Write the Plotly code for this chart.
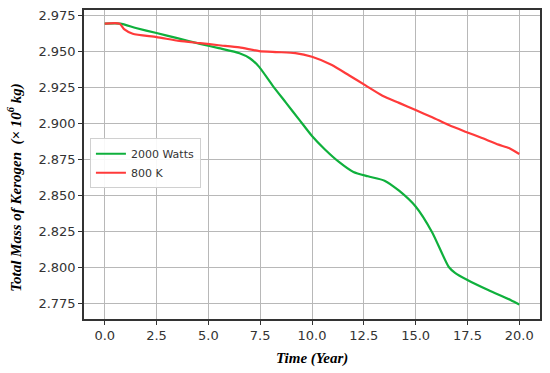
import plotly.graph_objects as go

# Data
time_green = [0.0, 0.75, 1.5, 2.5, 3.5, 4.6, 5.5, 6.5, 7.0, 7.45, 8.1, 8.75, 9.4, 10.0, 10.6, 11.3, 12.0, 12.7, 13.5, 14.2, 15.0, 15.8, 16.6, 16.9, 17.5, 18.5, 19.6, 20.0]
mass_green = [2.969, 2.969, 2.966, 2.9625, 2.959, 2.955, 2.952, 2.9485, 2.945, 2.939, 2.926, 2.914, 2.902, 2.891, 2.882, 2.873, 2.866, 2.863, 2.860, 2.853, 2.842, 2.824, 2.800, 2.796, 2.791, 2.784, 2.777, 2.774]

time_red = [0.0, 0.72, 0.95, 1.35, 2.5, 3.6, 4.6, 5.5, 6.5, 7.45, 8.3, 9.2, 10.0, 10.96, 11.8, 12.6, 13.4, 14.2, 15.0, 15.8, 16.6, 17.4, 18.2, 19.0, 19.5, 20.0]
mass_red = [2.969, 2.969, 2.965, 2.962, 2.9597, 2.957, 2.9555, 2.954, 2.9525, 2.950, 2.9493, 2.9486, 2.946, 2.9403, 2.933, 2.926, 2.919, 2.914, 2.909, 2.904, 2.8986, 2.894, 2.8896, 2.885, 2.8826, 2.8785]

x_ticks = [0.0, 2.5, 5.0, 7.5, 10.0, 12.5, 15.0, 17.5, 20.0]
y_ticks = [2.775, 2.800, 2.825, 2.850, 2.875, 2.900, 2.925, 2.950, 2.975]

fig = go.Figure()
fig.add_trace(go.Scatter(x=time_green, y=mass_green, mode="lines", name="2000 Watts",
                         line=dict(color="#0fb03c", width=2.2, shape="spline", smoothing=0.6)))
fig.add_trace(go.Scatter(x=time_red, y=mass_red, mode="lines", name="800 K",
                         line=dict(color="#ff3a3a", width=2.2, shape="spline", smoothing=0.6)))

axis_common = dict(showgrid=True, gridcolor="#b8b8b8", gridwidth=1,
                   showline=True, linecolor="#333333", linewidth=1.5, mirror=True,
                   ticks="outside", ticklen=4, tickcolor="#333333", zeroline=False,
                   tickfont=dict(family="DejaVu Sans", size=13, color="#333333"))

fig.update_xaxes(range=[-1.0, 21.0], tickvals=x_ticks,
                 ticktext=[f"{v:.1f}" for v in x_ticks], **axis_common)
fig.update_yaxes(range=[2.7639, 2.9785], tickvals=y_ticks,
                 ticktext=[f"{v:.3f}" for v in y_ticks], **axis_common)

fig.update_layout(
    width=550, height=373,
    margin=dict(l=84, r=8, t=10, b=54),
    paper_bgcolor="white", plot_bgcolor="white",
    showlegend=True,
    legend=dict(x=0.013, y=0.585, xanchor="left", yanchor="top",
                bgcolor="rgba(255,255,255,0.9)", bordercolor="#d0d0d0", borderwidth=1,
                font=dict(family="DejaVu Sans", size=11, color="#333333"),
                tracegroupgap=0, itemwidth=30),
    annotations=[
        dict(text="<b><i>Time (Year)</i></b>", xref="paper", yref="paper",
             x=0.5, y=-0.128, xanchor="center", yanchor="middle", showarrow=False,
             font=dict(family="Liberation Serif", size=15, color="black")),
        dict(text="<b><i>Total Mass of Kerogen  (× 10<sup>6</sup> kg)</i></b>",
             xref="paper", yref="paper", x=-0.151, y=0.425, xanchor="center",
             yanchor="middle", showarrow=False, textangle=-90,
             font=dict(family="Liberation Serif", size=15, color="black")),
    ],
)

fig.write_html("out.html", config={"displayModeBar": False},
               post_script="document.body.style.margin='0';")
